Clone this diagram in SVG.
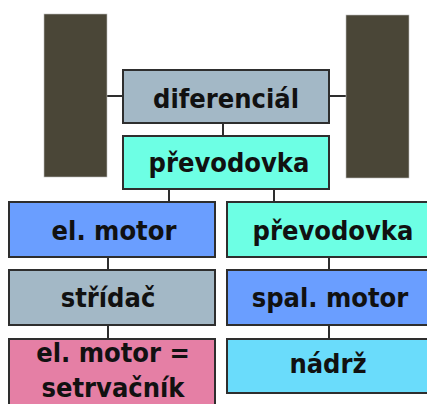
<svg xmlns="http://www.w3.org/2000/svg" width="427" height="404" viewBox="0 0 427 404">
<style>
.box{stroke:#2e2e2e;stroke-width:2}
.wheel{fill:#4a4637;stroke:#bdbdbd;stroke-width:0.6}
.lbl{font-family:"DejaVu Sans Condensed","DejaVu Sans",sans-serif;font-stretch:condensed;font-weight:bold;font-size:27px;fill:#111;text-anchor:middle}
.c{stroke:#2e2e2e;stroke-width:2;fill:none}
</style>
<rect width="427" height="404" fill="#fff"/>
<g id="connectors">
<line class="c" x1="107" y1="96" x2="123" y2="96"/>
<line class="c" x1="329" y1="96" x2="346" y2="96"/>
<line class="c" x1="223" y1="123" x2="223" y2="136"/>
<line class="c" x1="169" y1="189" x2="169" y2="202"/>
<line class="c" x1="274" y1="189" x2="274" y2="202"/>
<line class="c" x1="108" y1="257" x2="108" y2="270"/>
<line class="c" x1="329" y1="257" x2="329" y2="270"/>
<line class="c" x1="108" y1="325" x2="108" y2="339"/>
<line class="c" x1="329" y1="325" x2="329" y2="339"/>
</g>
<g id="wheel-left"><rect class="wheel" x="44" y="14" width="63" height="163"/></g>
<g id="wheel-right"><rect class="wheel" x="346" y="15" width="63" height="163"/></g>
<g id="diferencial"><rect class="box" x="123" y="70" width="206" height="53" fill="#a3b8c6"/><text class="lbl" x="226" y="108">diferenciál</text></g>
<g id="prevodovka1"><rect class="box" x="123" y="136" width="206" height="53" fill="#6dffe4"/><text class="lbl" x="229" y="172">převodovka</text></g>
<g id="elmotor"><rect class="box" x="9" y="202" width="206" height="55" fill="#6a9eff"/><text class="lbl" x="114" y="240">el. motor</text></g>
<g id="prevodovka2"><rect class="box" x="227" y="202" width="212" height="55" fill="#6dffe4"/><text class="lbl" x="333" y="240">převodovka</text></g>
<g id="stridac"><rect class="box" x="9" y="270" width="206" height="55" fill="#a3b8c6"/><text class="lbl" x="108" y="307">střídač</text></g>
<g id="spalmotor"><rect class="box" x="227" y="270" width="212" height="55" fill="#6a9eff"/><text class="lbl" x="330" y="307">spal. motor</text></g>
<g id="setrvacnik"><rect class="box" x="9" y="339" width="206" height="75" fill="#e57fa5"/><text class="lbl" x="113" y="362">el. motor =</text><text class="lbl" x="113" y="397">setrvačník</text></g>
<g id="nadrz"><rect class="box" x="227" y="339" width="212" height="54" fill="#6adcfb"/><text class="lbl" x="328" y="373">nádrž</text></g>
</svg>
